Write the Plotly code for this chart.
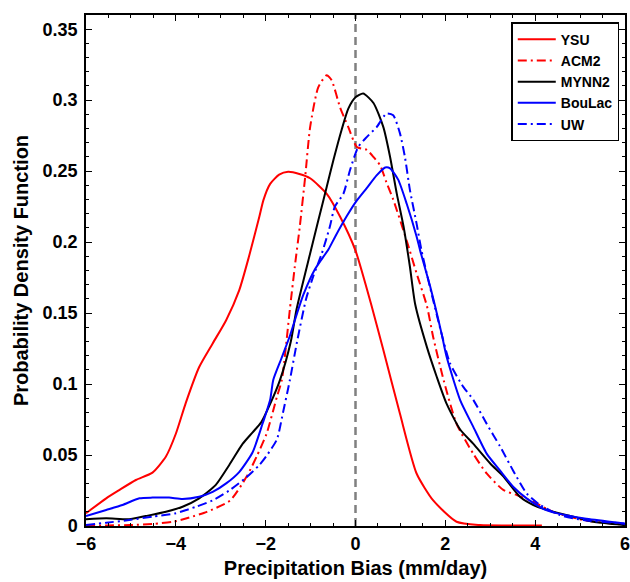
import plotly.graph_objects as go

# ---------------- data ----------------
ysu_x = [-6, -5.55, -5.26, -4.89, -4.52, -4.22, -4.0, -3.78, -3.48, -3.18, -2.88, -2.59, -2.37, -2.14, -2.05,
         -1.9, -1.7, -1.5, -1.25, -1.01, -0.64, -0.345, 0, 0.35, 0.62, 0.99, 1.36, 1.73, 2.25, 2.77, 3.5, 4.15]
ysu_y = [0.009, 0.0195, 0.0253, 0.0324, 0.0376, 0.049, 0.065, 0.0866, 0.112, 0.1286, 0.145, 0.166, 0.19, 0.218, 0.2296,
         0.241, 0.2475, 0.2495, 0.248, 0.245, 0.234, 0.218, 0.194, 0.156, 0.124, 0.079, 0.037, 0.018, 0.003, 0.0007, 0.0004, 0.0004]

acm2_x = [-6, -5.5, -5.02, -4.5, -4.06, -3.7, -3.31, -2.79, -2.42, -2.2, -1.98, -1.75, -1.64, -1.46, -1.35, -1.24,
          -1.12, -1.01, -0.83, -0.64, -0.53, -0.345, -0.16, 0.03, 0.25, 0.4, 0.55, 0.69, 0.84, 1.14, 1.36, 1.59, 1.73,
          1.96, 2.25, 2.62, 2.92, 3.29, 3.59, 3.96, 4.4, 5.07, 5.82, 6]
acm2_y = [0.0002, 0.0004, 0.0007, 0.0015, 0.003, 0.006, 0.010, 0.018, 0.035, 0.049, 0.065, 0.091, 0.103, 0.153, 0.183, 0.211,
          0.246, 0.281, 0.309, 0.3176, 0.314, 0.295, 0.281, 0.267, 0.265, 0.26, 0.254, 0.242, 0.230, 0.201, 0.178, 0.155, 0.133,
          0.103, 0.072, 0.051, 0.037, 0.0254, 0.0218, 0.017, 0.010, 0.0042, 0.0014, 0.001]

mynn2_x = [-6, -5.55, -5.04, -4.67, -4.22, -3.85, -3.48, -3.11, -2.81, -2.51, -2.29, -2.1, -1.9, -1.68, -1.44, -1.31,
           -1.01, -0.83, -0.64, -0.49, -0.31, -0.16, 0, 0.17, 0.4, 0.62, 0.77, 0.92, 1.07, 1.21, 1.33, 1.59, 1.81, 2.03,
           2.33, 2.62, 3.0, 3.29, 3.66, 3.96, 4.4, 4.85, 5.3, 5.96, 6]
mynn2_y = [0.0047, 0.0054, 0.0047, 0.007, 0.010, 0.0136, 0.0195, 0.029, 0.043, 0.058, 0.066, 0.073, 0.086, 0.103, 0.13, 0.153,
           0.192, 0.215, 0.239, 0.258, 0.279, 0.294, 0.302, 0.3047, 0.298, 0.281, 0.260, 0.234, 0.211, 0.183, 0.156, 0.126, 0.105, 0.086,
           0.068, 0.058, 0.044, 0.035, 0.0206, 0.0148, 0.010, 0.0066, 0.003, 0.0007, 0.0005]

boulac_x = [-6, -5.55, -5.19, -4.81, -4.52, -4.15, -3.85, -3.48, -3.18, -2.88, -2.59, -2.29, -2.07, -1.9, -1.83, -1.65,
            -1.46, -1.3, -1.16, -0.9, -0.6, -0.45, -0.2, 0, 0.25, 0.47, 0.66, 0.77, 0.95, 1.14, 1.36, 1.44, 1.66, 1.92,
            2.03, 2.33, 2.62, 2.92, 3.22, 3.51, 3.81, 4.26, 5.07, 5.96, 6]
boulac_y = [0.007, 0.0113, 0.0148, 0.0195, 0.020, 0.020, 0.019, 0.0206, 0.024, 0.030, 0.038, 0.052, 0.072, 0.089, 0.103, 0.118,
            0.134, 0.150, 0.163, 0.181, 0.195, 0.204, 0.218, 0.228, 0.238, 0.247, 0.2526, 0.252, 0.244, 0.227, 0.204, 0.194, 0.169, 0.135,
            0.119, 0.0887, 0.070, 0.051, 0.039, 0.0277, 0.0195, 0.011, 0.0054, 0.0019, 0.0015]

uw_x = [-6, -5.55, -5.04, -4.52, -4.0, -3.55, -3.18, -2.81, -2.44, -2.14, -1.99, -1.75, -1.62, -1.46, -1.3, -1.1,
        -0.94, -0.75, -0.57, -0.46, -0.27, -0.12, 0.06, 0.25, 0.47, 0.69, 0.84, 0.99, 1.1, 1.21, 1.36, 1.47, 1.73,
        2.1, 2.4, 2.62, 2.92, 3.22, 3.51, 3.81, 4.11, 4.55, 5.07, 5.89, 6]
uw_y = [0.0007, 0.0023, 0.0042, 0.0066, 0.009, 0.0136, 0.018, 0.025, 0.034, 0.043, 0.049, 0.061, 0.079, 0.103, 0.13, 0.16,
        0.176, 0.192, 0.211, 0.225, 0.234, 0.251, 0.267, 0.274, 0.281, 0.2906, 0.2894, 0.2766, 0.26, 0.237, 0.213, 0.194, 0.159,
        0.115, 0.098, 0.089, 0.072, 0.056, 0.039, 0.023, 0.0148, 0.0077, 0.0042, 0.0019, 0.0015]

series_names = ["YSU", "ACM2", "MYNN2", "BouLac", "UW"]
zero_line_x = [0, 0]
zero_line_y = [0, 0.36]

# ---------------- figure ----------------
FONT = "Arial, Liberation Sans, sans-serif"
dashdot = "9px,4px,2px,4px"

fig = go.Figure()

fig.add_trace(go.Scatter(x=zero_line_x, y=zero_line_y, mode="lines", showlegend=False,
                         line=dict(color="#808080", width=2.5, dash="8px,5px"), hoverinfo="skip"))

styles = [
    (ysu_x, ysu_y, "#ff0000", "solid"),
    (acm2_x, acm2_y, "#ff0000", dashdot),
    (mynn2_x, mynn2_y, "#000000", "solid"),
    (boulac_x, boulac_y, "#0000ff", "solid"),
    (uw_x, uw_y, "#0000ff", dashdot),
]
for name, (xs, ys, col, dash) in zip(series_names, styles):
    fig.add_trace(go.Scatter(x=xs, y=ys, mode="lines", name=name,
                             line=dict(color=col, width=2, dash=dash, shape="spline", smoothing=0.6)))

axis_common = dict(showline=True, linecolor="black", linewidth=1.5, mirror="allticks",
                   ticks="inside", ticklen=6, tickwidth=1, tickcolor="black",
                   showgrid=False, zeroline=False, automargin=False,
                   ticklabeloverflow="allow",
                   tickfont=dict(family=FONT, size=18, color="black", weight="bold"))

fig.update_xaxes(range=[-6, 6], tickvals=[-6, -4, -2, 0, 2, 4, 6],
                 minor=dict(ticks="inside", dtick=0.5, ticklen=3, tickcolor="black"),
                 ticklabelstandoff=1,
                 title=dict(text="Precipitation Bias (mm/day)", standoff=8,
                            font=dict(family=FONT, size=20, color="black", weight="bold")),
                 **axis_common)
fig.update_yaxes(range=[0, 0.36], tickvals=[0, 0.05, 0.1, 0.15, 0.2, 0.25, 0.3, 0.35],
                 minor=dict(ticks="inside", dtick=0.01, ticklen=3, tickcolor="black"),
                 ticklabelstandoff=3,
                 title=dict(text="Probability Density Function", standoff=9,
                            font=dict(family=FONT, size=20, color="black", weight="bold")),
                 **axis_common)

fig.update_layout(
    width=630, height=582,
    margin=dict(l=86, r=5, t=15, b=56),
    paper_bgcolor="white", plot_bgcolor="white",
    legend=dict(x=0.789, y=0.986, xanchor="left", yanchor="top",
                bgcolor="white", bordercolor="black", borderwidth=1.5,
                font=dict(family=FONT, size=14, color="black", weight="bold"),
                tracegroupgap=0, itemwidth=38),
)

# remove the default page margin so the 630x582 figure fills the window exactly
fig.write_html("out.html", config={"displayModeBar": False},
               post_script="document.body.style.margin='0';document.body.style.overflow='hidden';")
